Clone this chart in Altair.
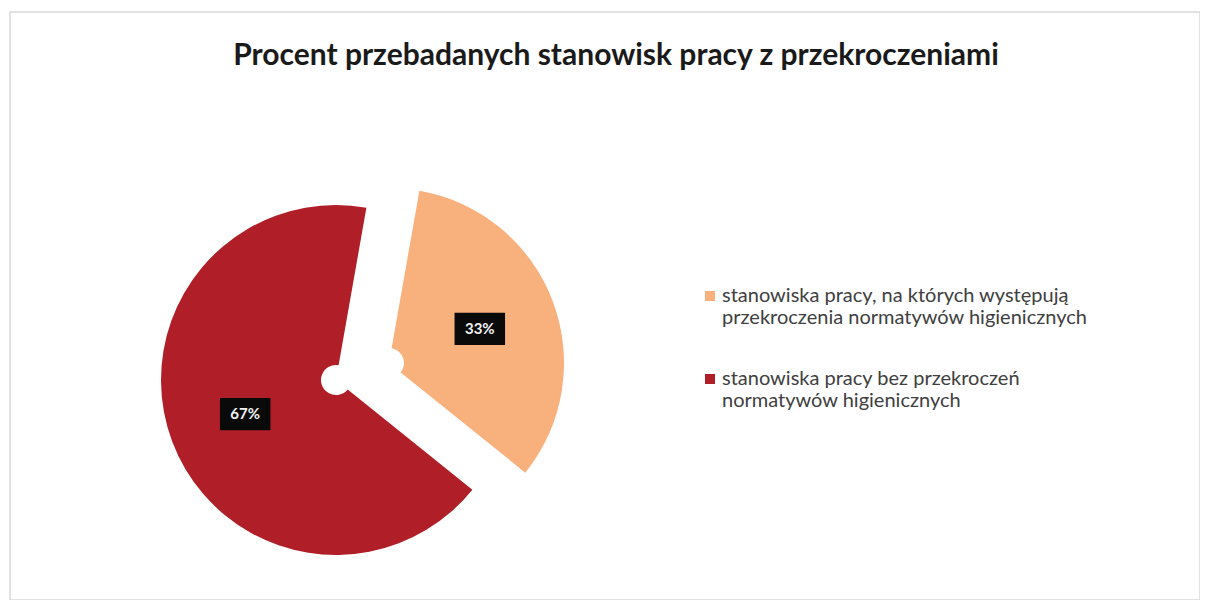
import math
import altair as alt
import pandas as pd

# ---- data ----
categories = [
    "stanowiska pracy, na których występują\nprzekroczenia normatywów higienicznych",
    "stanowiska pracy bez przekroczeń\nnormatywów higienicznych",
]
values = [33, 67]
labels = ["33%", "67%"]
order = [0, 1]

# ---- styles / layout ----
colors = ["#F8B07D", "#B01E28"]
explode = {categories[0]: (53, -17), categories[1]: (0, 0)}
CX, CY = 326, 368          # pie centre inside the plot area
R_OUT, R_IN = 175, 15
R_LABEL = 97
START = math.radians(10)

df = pd.DataFrame({"category": categories, "value": values,
                   "label": labels, "order": order})

theta_scale = alt.Scale(domain=[0, 100], range=[START, START + 2 * math.pi])
color_scale = alt.Scale(domain=categories, range=colors)

base = (
    alt.Chart(df)
    .transform_stack(stack="value", groupby=[], as_=["v0", "v1"],
                     sort=[alt.SortField("order", order="ascending")])
    .transform_calculate(mid="(datum.v0 + datum.v1) / 2")
    .transform_calculate(
        ang=f"{START} + datum.mid / 100 * 2 * PI",
    )
    .transform_calculate(
        bx=f"{CX} + {R_LABEL} * sin(datum.ang)",
        by=f"{CY} - {R_LABEL} * cos(datum.ang)",
    )
)

box_shape = "M-1,-0.64L1,-0.64L1,0.64L-1,0.64Z"

layers = []
for i, cat in enumerate(categories):
    dx, dy = explode[cat]
    b = base.transform_filter(alt.datum.category == cat)
    arc = b.mark_arc(
        x=CX, y=CY, xOffset=dx, yOffset=dy,
        outerRadius=R_OUT, innerRadius=R_IN, stroke=None,
    ).encode(
        theta=alt.Theta("v0:Q", scale=theta_scale),
        theta2="v1:Q",
        color=alt.Color(
            "category:N", scale=color_scale,
            legend=alt.Legend(
                title=None, orient="none", legendX=690, legendY=274,
                symbolType="square", symbolSize=100, symbolStrokeWidth=0,
                labelFont="Lato", labelFontSize=20, labelColor="#404040",
                labelLimit=600, labelOffset=2, rowPadding=41, padding=0,
                labelExpr="split(datum.label, '\\n')",
            ),
        ),
        order=alt.Order("order:Q"),
    )
    box = b.mark_point(
        shape=box_shape, size=2550, filled=True, color="#0a0a0a",
        opacity=1, strokeWidth=0, xOffset=dx, yOffset=dy,
    ).encode(
        x=alt.X("bx:Q", scale=None),
        y=alt.Y("by:Q", scale=None),
    )
    txt = b.mark_text(
        x=CX, y=CY, xOffset=dx, yOffset=dy, radius=R_LABEL,
        font="Lato", fontSize=15, fontWeight="bold", color="#f2f2f2",
        align="center", baseline="middle",
    ).encode(
        theta=alt.Theta("mid:Q", scale=theta_scale),
        text="label:N",
    )
    layers += [arc, box, txt]

chart = (
    alt.layer(*layers)
    .properties(
        width=1190, height=588,
        autosize=alt.AutoSizeParams(type="none"),
        padding={"left": 2, "top": 4, "right": 0, "bottom": 0},
        title=alt.TitleParams(
            "Procent przebadanych stanowisk pracy z przekroczeniami",
            font="Lato", fontSize=30, fontWeight="bold", color="#1a1a1a",
            anchor="middle", frame="group", dx=11, offset=-59,
        ),
        background="white",
    )
    .configure_view(stroke="#d9d9d9", strokeWidth=1.5)
)

chart.save("out.html", embed_options={"renderer": "svg", "actions": False})
